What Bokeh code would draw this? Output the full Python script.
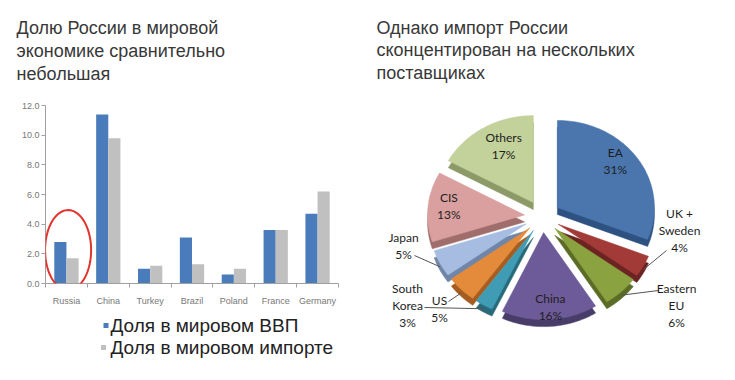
import numpy as np
from bokeh.plotting import figure
from bokeh.models import Range1d, FixedTicker, NumeralTickFormatter, PolyAnnotation
from bokeh.layouts import row, column
from bokeh.embed import file_html
from bokeh.resources import INLINE
from bokeh.core.properties import value

# ---------------- data ----------------
countries = ["Russia", "China", "Turkey", "Brazil", "Poland", "France", "Germany"]
gdp_share = [2.8, 11.4, 1.0, 3.1, 0.6, 3.6, 4.7]
import_share = [1.7, 9.8, 1.2, 1.3, 1.0, 3.6, 6.2]
y_ticks = [0, 2, 4, 6, 8, 10, 12]
series_names = ["Доля в мировом ВВП", "Доля в мировом импорте"]

suppliers = ["EA", "UK +\nSweden", "Eastern\nEU", "China", "South\nKorea", "US", "Japan", "CIS", "Others"]
supplier_share = [31, 4, 6, 16, 3, 5, 5, 13, 17]

title_left = ["Долю России в мировой", "экономике сравнительно", "небольшая"]
title_right = ["Однако импорт России", "сконцентирован на нескольких", "поставщиках"]

# ---------------- styles ----------------
BLUE = "#4a7cbc"
GRAY = "#c0c0c0"
TITLE_FONT = "Liberation Sans"
TITLE_COLOR = "#383838"
top_colors = ["#4a76ad", "#a23b37", "#8aa23f", "#6d5a98", "#3f9cb4", "#e48a3b", "#a6bce0", "#d9a09f", "#c3d19a"]
side_colors = ["#2d5282", "#6c2422", "#5b6c27", "#483c68", "#296a7a", "#a65d21", "#7086a8", "#a06d6d", "#8d9a67"]

H = 372
W1 = 360


def blank(width, height):
    p = figure(width=width, height=height, x_range=Range1d(0, width), y_range=Range1d(0, height),
               output_backend="svg", toolbar_location=None,
               x_axis_location=None, y_axis_location=None, min_border=0)
    p.frame_align = False
    p.grid.visible = False
    p.outline_line_color = None
    return p


# ---------------- left: title strip ----------------
HT = 97
pt = blank(W1, HT)
pt.text(x=[16] * 3, y=[HT - (27 + 23 * i) for i in range(3)], text=title_left,
        text_font=value(TITLE_FONT), text_font_size="18px", text_color=TITLE_COLOR,
        text_align="left", text_baseline="alphabetic")

# ---------------- left: bar chart ----------------
FL, FR, FT, FB = 45, 338, 8, 186   # frame edges inside this strip
HB = FB + 25
p1 = figure(width=W1, height=HB, x_range=Range1d(0, 7), y_range=Range1d(0, 12),
            output_backend="svg", toolbar_location=None,
            min_border_left=FL, min_border_right=W1 - FR,
            min_border_top=FT, min_border_bottom=HB - FB)
p1.frame_align = False
p1.grid.visible = False
p1.outline_line_color = None

xc = np.arange(len(countries)) + 0.5
p1.vbar(x=xc - 0.145, top=gdp_share, width=0.29, fill_color=BLUE, line_color=None)
p1.vbar(x=xc + 0.145, top=import_share, width=0.29, fill_color=GRAY, line_color=None)

p1.xaxis.ticker = FixedTicker(ticks=list(xc), minor_ticks=list(range(len(countries) + 1)))
p1.xaxis.major_label_overrides = {float(x): c for x, c in zip(xc, countries)}
p1.xaxis.major_tick_line_color = None
p1.xaxis.major_tick_out = 0
p1.xaxis.major_tick_in = 0
p1.xaxis.minor_tick_out = 4
p1.xaxis.minor_tick_in = 0
p1.xaxis.minor_tick_line_color = "#a0a0a0"
p1.xaxis.major_label_standoff = 8

p1.yaxis.ticker = FixedTicker(ticks=y_ticks)
p1.yaxis.formatter = NumeralTickFormatter(format="0.0")
p1.yaxis.minor_tick_line_color = None
p1.yaxis.major_tick_out = 4
p1.yaxis.major_tick_in = 0
p1.yaxis.major_tick_line_color = "#a0a0a0"
p1.yaxis.major_label_standoff = 2

for ax in (p1.xaxis, p1.yaxis):
    ax.axis_line_color = "#a0a0a0"
    ax.major_label_text_font = "Liberation Sans"
    ax.major_label_text_font_size = "9px"
    ax.major_label_text_color = "#777777"

# red ellipse highlighting Russia
t = np.linspace(0, 2 * np.pi, 90)
ex_cx, ex_cy, ex_a, ex_b = 0.54, 2.25, 0.55, 2.7
p1.add_layout(PolyAnnotation(xs=list(ex_cx + ex_a * np.cos(t)), ys=list(ex_cy + ex_b * np.sin(t)),
                             xs_units="data", ys_units="data",
                             fill_alpha=0, line_color="#e2342c", line_alpha=1, line_width=2))

# ---------------- left: legend strip ----------------
TOP_L = HT + HB
HL = H - TOP_L
leg_y = [HL - (325 - TOP_L), HL - (347 - TOP_L)]
pl = blank(W1, HL)
pl.scatter(x=[105.5, 103], y=leg_y, marker="square", size=5, fill_color=[BLUE, GRAY], line_color=None)
pl.text(x=[110, 110], y=leg_y, text=series_names, text_font=value(TITLE_FONT), text_font_size="19px",
        text_color="#222222", text_align="left", text_baseline="middle")

left = column(pt, p1, pl, spacing=0)

# ---------------- right: exploded pie ----------------
W2 = 372
p2 = blank(W2, H)


def X(rx):
    return rx - W1


def Y(ry):
    return H - ry


CX, CY, RX, RY, EXPL, DEPTH = X(542), Y(216), 97, 87, 18, 7

share = np.array(supplier_share, dtype=float)
cum = np.concatenate([[0], np.cumsum(share)]) / share.sum()
a0 = np.pi / 2 - 2 * np.pi * cum[:-1]
a1 = np.pi / 2 - 2 * np.pi * cum[1:]
mid = (a0 + a1) / 2

top_xs, top_ys, side_xs, side_ys = [], [], [], []
for s, e, m in zip(a0, a1, mid):
    ox, oy = EXPL * np.cos(m), EXPL * np.sin(m) * RY / RX
    tt = np.linspace(s, e, max(8, int(abs(e - s) * 40)))
    xs = [CX + ox] + list(CX + ox + RX * np.cos(tt))
    ys = [CY + oy] + list(CY + oy + RY * np.sin(tt))
    top_xs.append(xs)
    top_ys.append(ys)
    side_xs.append(xs)
    side_ys.append([y - DEPTH for y in ys])

p2.patches(side_xs, side_ys, fill_color=side_colors, line_color=side_colors, line_width=0.5)
p2.patches(top_xs, top_ys, fill_color=top_colors, line_color=top_colors, line_width=0.5)

# labels
inside_nudge = {"EA": (-5, 8), "China": (2, -6), "CIS": (0, 3), "Others": (9, -2)}
outside_layout = {  # first line centre and leader start, in reference page pixels
    "UK +\nSweden": ((679, 213), (666, 250)),
    "Eastern\nEU": ((676, 288), (658, 290)),
    "Japan": ((403, 237), (414, 255)),
    "South\nKorea": ((407, 288), (424, 307)),
    "US": ((439, 300), (448, 301)),
}
LINE_H = 17
tx, ty, tt_ = [], [], []
lx0, ly0, lx1, ly1 = [], [], [], []
for name, pct, m in zip(suppliers, supplier_share, mid):
    lines = name.split("\n") + [f"{pct}%"]
    if name in inside_nudge:
        dx, dy = inside_nudge[name]
        px = CX + 0.97 * RX * np.cos(m) + dx
        py = CY + 0.97 * RY * np.sin(m) + dy
        y_first = py + LINE_H * (len(lines) - 1) / 2
        for k, ln in enumerate(lines):
            tx.append(px); ty.append(y_first - LINE_H * k); tt_.append(ln)
    else:
        (fx, fy), (sx, sy) = outside_layout[name]
        for k, ln in enumerate(lines):
            tx.append(X(fx)); ty.append(Y(fy) - LINE_H * k); tt_.append(ln)
        ox, oy = EXPL * np.cos(m), EXPL * np.sin(m) * RY / RX
        lx0.append(X(sx)); ly0.append(Y(sy))
        lx1.append(CX + ox + RX * np.cos(m)); ly1.append(CY + oy + RY * np.sin(m) - DEPTH / 2)

p2.segment(x0=lx0, y0=ly0, x1=lx1, y1=ly1, line_color="#555555", line_width=1)
p2.text(x=tx, y=ty, text=tt_, text_font=value("Lato"), text_font_size="12px",
        text_align="center", text_baseline="middle", text_color="#1e1e1e")

p2.text(x=[X(376)] * 3, y=[Y(27 + 22.5 * i) for i in range(3)], text=title_right,
        text_font=value(TITLE_FONT), text_font_size="18px", text_color=TITLE_COLOR,
        text_align="left", text_baseline="alphabetic")

layout = row(left, p2, spacing=0)
open("out.html", "w").write(file_html(layout, INLINE))
